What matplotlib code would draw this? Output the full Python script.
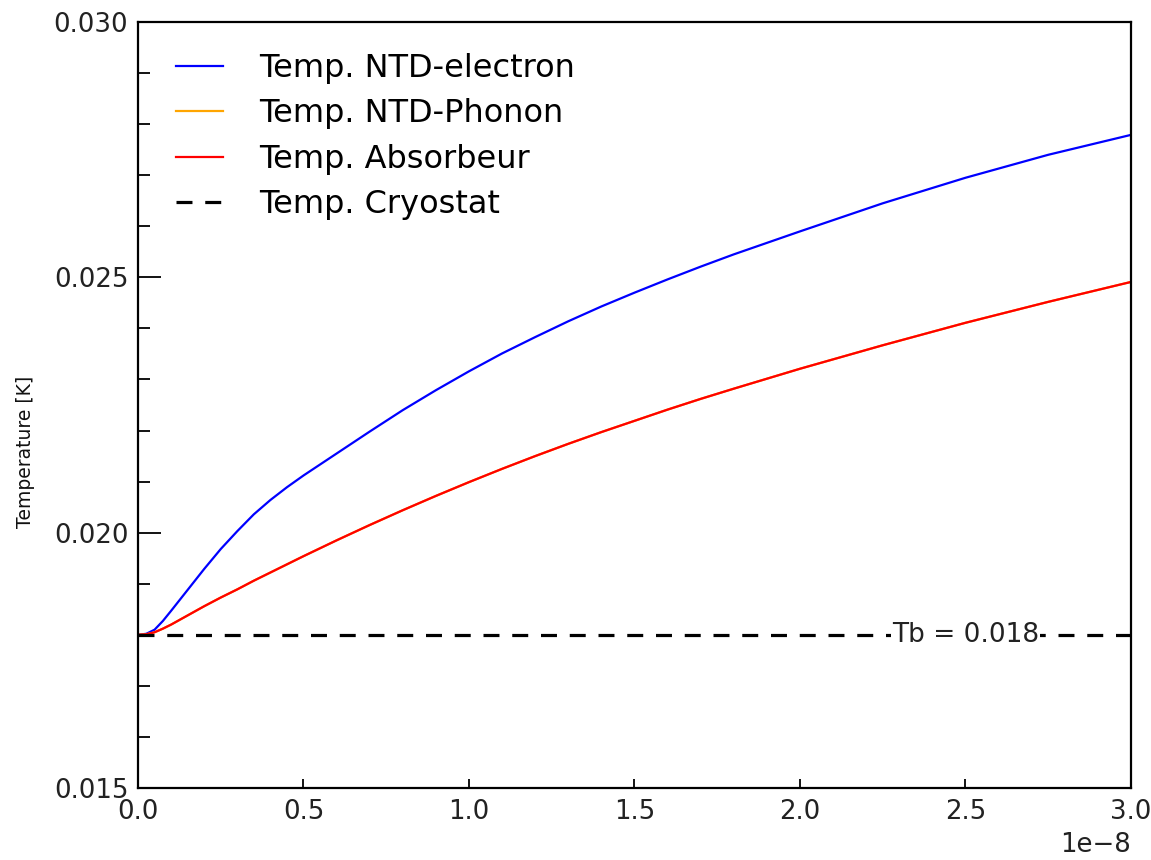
import matplotlib
matplotlib.use("Agg")
import matplotlib.pyplot as plt
import numpy as np

# time in units of 1e-8 s
time_e8 = [0.0, 0.025, 0.05, 0.075, 0.1, 0.15, 0.2, 0.25, 0.3, 0.35, 0.4, 0.45, 0.5,
           0.6, 0.7, 0.8, 0.9, 1.0, 1.1, 1.2, 1.3, 1.4, 1.5, 1.6, 1.7, 1.8, 2.0,
           2.25, 2.5, 2.75, 3.0]
T_electron = [0.01800, 0.01802, 0.01810, 0.01827, 0.01847, 0.01888, 0.01929, 0.01968,
              0.02003, 0.02036, 0.02064, 0.02089, 0.02112, 0.02155, 0.02198, 0.02240,
              0.02279, 0.02316, 0.02351, 0.02383, 0.02414, 0.02443, 0.02470, 0.02496,
              0.02521, 0.02545, 0.02590, 0.02645, 0.02695, 0.02740, 0.02779]
T_absorbeur = [0.01800, 0.01801, 0.01805, 0.01812, 0.01820, 0.01838, 0.01856, 0.01873,
               0.01889, 0.01906, 0.01922, 0.01938, 0.01954, 0.01985, 0.02015, 0.02044,
               0.02072, 0.02099, 0.02125, 0.02150, 0.02174, 0.02197, 0.02219, 0.02241,
               0.02262, 0.02282, 0.02321, 0.02367, 0.02411, 0.02452, 0.02491]
T_phonon = T_absorbeur
Tb = 0.018

labels = ["Temp. NTD-electron", "Temp. NTD-Phonon", "Temp. Absorbeur", "Temp. Cryostat"]

t = np.array(time_e8) * 1e-8

fig = plt.figure(figsize=(11.51, 8.60), dpi=100)
ax = fig.add_axes([0.1199, 0.0837, 0.8627, 0.8907])

ax.plot(t, T_electron, color="#0000ff", lw=1.6, label=labels[0])
ax.plot(t, T_phonon, color="orange", lw=1.6, label=labels[1])
ax.plot(t, T_absorbeur, color="#ff0000", lw=1.6, label=labels[2])
ax.plot([t[0], t[-1]], [Tb, Tb], color="black", lw=2.3, dashes=(5, 4), label=labels[3])

ax.text(2.5e-8, Tb, "Tb = %.3f" % Tb, ha="center", va="center", fontsize=19,
        color="#222222",
        bbox=dict(facecolor="white", edgecolor="none", pad=1))

ax.set_xlim(0, 3e-8)
ax.set_ylim(0.015, 0.030)
ax.set_xticks([0, 0.5e-8, 1.0e-8, 1.5e-8, 2.0e-8, 2.5e-8, 3.0e-8])
ax.set_yticks([0.015, 0.020, 0.025, 0.030])
ax.set_yticks(np.arange(0.015, 0.0301, 0.001), minor=True)
ax.yaxis.set_major_formatter(matplotlib.ticker.FormatStrFormatter("%.3f"))
ax.set_xticklabels(["0.0", "0.5", "1.0", "1.5", "2.0", "2.5", "3.0"])
ax.text(1.0, -0.075, "1e\u22128", transform=ax.transAxes, ha="right", va="center",
        fontsize=18.7, color="#222222")

ax.tick_params(axis="both", which="both", direction="in", top=False, right=False,
               labelsize=18.7, labelcolor="#222222", width=1.3)
ax.tick_params(axis="y", which="major", length=16.5, pad=7)
ax.tick_params(axis="y", which="minor", length=8.5)
ax.tick_params(axis="x", which="major", length=6.5, pad=8)
for s in ax.spines.values():
    s.set_linewidth(1.6)

ax.set_ylabel("Temperature [K]", fontsize=13.5, color="#111111", va="center")
ax.yaxis.set_label_coords(-0.1138, 0.4386)

ax.legend(loc="upper left", frameon=False, fontsize=23, handlelength=1.47,
          handletextpad=1.13, labelspacing=0.45, borderaxespad=0, borderpad=0,
          bbox_to_anchor=(0.0383, 0.9595))

fig.savefig("out.png", dpi=100)
